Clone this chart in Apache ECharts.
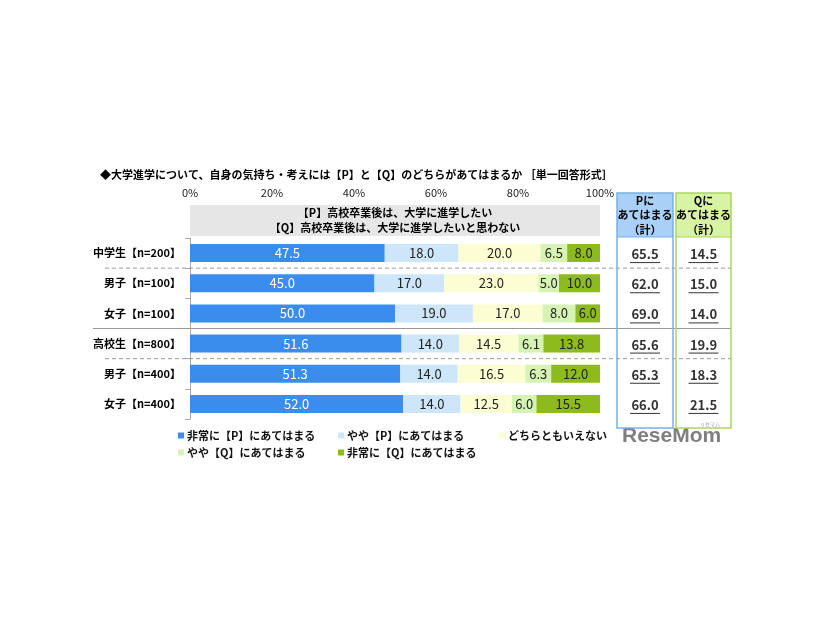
<!DOCTYPE html>
<html><head><meta charset="utf-8">
<script src="https://cdn.jsdelivr.net/npm/echarts/dist/echarts.min.js"></script>
<style>html,body{margin:0;padding:0;background:#fff}#c{width:826px;height:620px}</style>
</head><body><div id="c"></div>
<script>
const categories = ['中学生【n=200】','男子【n=100】','女子【n=100】','高校生【n=800】','男子【n=400】','女子【n=400】'];
const seriesNames = ['非常に【P】にあてはまる','やや【P】にあてはまる','どちらともいえない','やや【Q】にあてはまる','非常に【Q】にあてはまる'];
const veryP   = [47.5, 45.0, 50.0, 51.6, 51.3, 52.0];
const someP   = [18.0, 17.0, 19.0, 14.0, 14.0, 14.0];
const neither = [20.0, 23.0, 17.0, 14.5, 16.5, 12.5];
const someQ   = [6.5, 5.0, 8.0, 6.1, 6.3, 6.0];
const veryQ   = [8.0, 10.0, 6.0, 13.8, 12.0, 15.5];
const totalP  = [65.5, 62.0, 69.0, 65.6, 65.3, 66.0];
const totalQ  = [14.5, 15.0, 14.0, 19.9, 18.3, 21.5];
const xTicks  = [0, 20, 40, 60, 80, 100];

const FONT = '"Noto Sans CJK JP", "Noto Sans", sans-serif';
const colors = ['#3a8ded', '#cde6f9', '#fdfdd3', '#d6f3b4', '#8dba1c'];
const labelColors = ['#ffffff', '#222', '#222', '#222', '#222'];
const allData = [veryP, someP, neither, someQ, veryQ];

const chart = echarts.init(document.getElementById('c'));
const GRID_TOP = 238, GRID_H = 181;

// legend placement (one legend per item to match the fixed columns)
const legendPos = [[173, 425], [333, 425], [494, 425], [173, 442], [333, 442]];

chart.setOption({
  backgroundColor: '#fff',
  animation: false,
  textStyle: { fontFamily: FONT },
  title: {
    text: '◆大学進学について、自身の気持ち・考えには【P】と【Q】のどちらがあてはまるか ［単一回答形式］',
    left: 95, top: 164,
    textStyle: { fontSize: 11, fontWeight: 'bold', color: '#000', fontFamily: FONT }
  },
  legend: seriesNames.map((n, i) => ({
    data: [n], left: legendPos[i][0], top: legendPos[i][1], icon: 'rect',
    itemWidth: 6, itemHeight: 6, itemGap: 0,
    textStyle: { fontSize: 11, fontWeight: 'bold', color: '#111', padding: [0, 0, 0, -2] }
  })),
  grid: { left: 190, right: 226, top: GRID_TOP, height: GRID_H, containLabel: false },
  xAxis: {
    type: 'value', position: 'top', min: xTicks[0], max: xTicks[xTicks.length - 1], interval: 20,
    axisLine: { show: false }, axisTick: { show: false }, splitLine: { show: false },
    axisLabel: { formatter: v => v + '%', fontSize: 11, color: '#222', margin: 40 }
  },
  yAxis: {
    type: 'category', data: categories, inverse: true,
    axisLine: { show: true, lineStyle: { color: '#aaa' } },
    axisTick: { show: true, length: 5, lineStyle: { color: '#aaa' } },
    axisLabel: { fontSize: 11, fontWeight: 'bold', color: '#000', margin: 9 }
  },
  series: seriesNames.map((name, i) => ({
    name, type: 'bar', stack: 'total', barWidth: 18,
    data: allData[i],
    itemStyle: { color: colors[i] },
    label: { show: true, position: 'inside', fontSize: 13, color: labelColors[i],
      formatter: p => Number(p.value).toFixed(1) }
  }))
});

// annotations: header box, table, separators
const ys = categories.map((c, i) => chart.convertToPixel({ yAxisIndex: 0 }, i));
const x0 = chart.convertToPixel({ xAxisIndex: 0 }, 0);
const x100 = chart.convertToPixel({ xAxisIndex: 0 }, 100);
const bnd = i => (ys[i] + ys[i + 1]) / 2;
const g = [];

g.push({ type: 'rect', shape: { x: x0, y: GRID_TOP - 33, width: x100 - x0, height: 31 }, style: { fill: '#e6e6e6' }, z: 1 });
g.push({ type: 'text', x: (x0 + x100) / 2, y: GRID_TOP - 25, style: { text: '【P】高校卒業後は、大学に進学したい', fontSize: 11, fontWeight: 'bold', fill: '#000', align: 'center', verticalAlign: 'middle', fontFamily: FONT }, z: 2 });
g.push({ type: 'text', x: (x0 + x100) / 2, y: GRID_TOP - 10, style: { text: '【Q】高校卒業後は、大学に進学したいと思わない', fontSize: 11, fontWeight: 'bold', fill: '#000', align: 'center', verticalAlign: 'middle', fontFamily: FONT }, z: 2 });

// separators
const sepLine = (y, xs, dashed) => g.push({ type: 'line', shape: { x1: xs, y1: y, x2: 731, y2: y },
  style: { stroke: '#999', lineWidth: 1, lineDash: dashed ? [4, 3] : null }, z: 3 });
sepLine(bnd(0), 105, true);
sepLine(bnd(2), 93, false);
sepLine(bnd(3), 105, true);

// table boxes
const tables = [
  { x: 617, w: 56, fill: '#a9d0f7', stroke: '#78b0e2', head: 'Pに', vals: totalP },
  { x: 676, w: 55, fill: '#d9f3a4', stroke: '#aad663', head: 'Qに', vals: totalQ }
];
const tTop = 193, tBot = 428, hBot = 237;
tables.forEach(t => {
  g.push({ type: 'rect', shape: { x: t.x, y: tTop, width: t.w, height: hBot - tTop }, style: { fill: t.fill }, z: 4 });
  g.push({ type: 'rect', shape: { x: t.x, y: tTop, width: t.w, height: tBot - tTop }, style: { fill: null, stroke: t.stroke, lineWidth: 1.5 }, z: 6 });
  g.push({ type: 'line', shape: { x1: t.x, y1: hBot, x2: t.x + t.w, y2: hBot }, style: { stroke: t.stroke, lineWidth: 1 }, z: 6 });
  const cx = t.x + t.w / 2;
  g.push({ type: 'text', x: cx, y: 215, style: { text: t.head + '\nあてはまる\n（計）', lineHeight: 14.5, fontSize: 11, fontWeight: 'bold', fill: '#000', align: 'center', verticalAlign: 'middle', fontFamily: FONT }, z: 7 });
  t.vals.forEach((v, i) => {
    const y = ys[i] + 1;
    g.push({ type: 'text', x: cx, y: y, style: { text: v.toFixed(1), fontSize: 13, fontWeight: 'bold', fill: '#333', align: 'center', verticalAlign: 'middle', fontFamily: FONT }, z: 7 });
    g.push({ type: 'line', shape: { x1: cx - 15, y1: y + 8.5, x2: cx + 15, y2: y + 8.5 }, style: { stroke: '#333', lineWidth: 1 }, z: 7 });
  });
});

// logo watermark
g.push({ type: 'text', x: 622, y: 436, style: { text: 'ReseMom', fontSize: 21, fontWeight: 'bold', fill: '#7f7f7f', verticalAlign: 'middle', fontFamily: '"Liberation Sans", Arial, sans-serif' }, z: 5 });
g.push({ type: 'text', x: 700, y: 422, style: { text: 'リセマム', fontSize: 5, fill: '#999', fontFamily: FONT }, z: 5 });

chart.setOption({ graphic: g });
</script>
</body></html>
